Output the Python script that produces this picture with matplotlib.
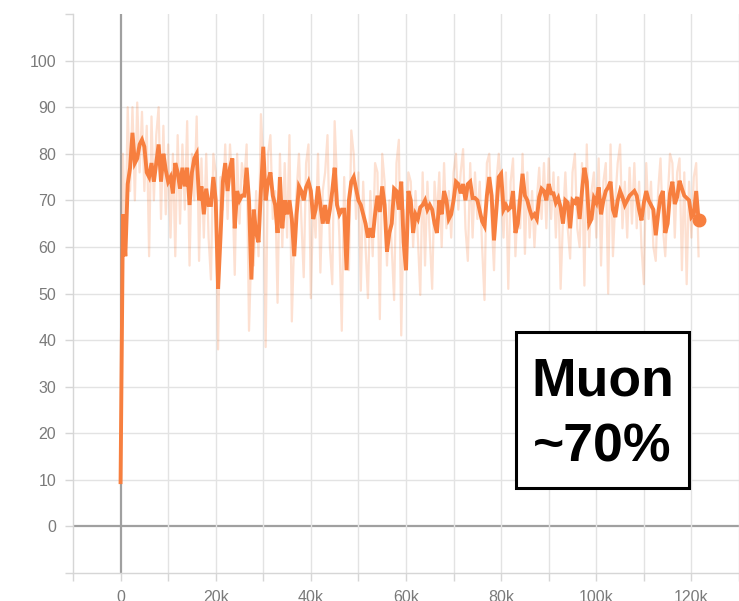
"""Muon eval accuracy curve, TensorBoard style (raw + smoothed)."""
import numpy as np
import matplotlib
matplotlib.use("Agg")
import matplotlib.pyplot as plt
from matplotlib.patches import Rectangle

# logged every 500 steps, first point at step 0
STEP_INTERVAL = 500

# smoothed curve (%)
SMOOTHED = [
    9.5, 67, 58, 73.5, 77, 84.5, 78, 79, 82, 83,
    81.5, 76, 75, 78, 74, 78, 82, 74, 80, 76.5,
    74, 75, 71.5, 78, 76, 72.5, 77, 73, 77, 69,
    76, 79, 80, 70, 73, 67, 72.5, 69, 69, 75,
    70, 51, 62, 74, 78, 72, 77, 79,
    64, 72, 70, 71, 71, 77, 70, 53, 68, 63,
    61, 72, 81.5, 70, 74, 76, 71, 69, 63, 75,
    64, 70, 67, 70, 66, 58, 67, 73, 72, 70,
    72.8, 74, 72, 66, 68, 73, 69, 65, 69, 65,
    68, 72, 77, 69, 67, 68, 68, 55, 70, 74,
    75, 72.5, 70, 69, 67, 65, 62, 64, 62, 67,
    71, 67.5, 73, 69, 59, 63, 65, 72.5, 72, 68,
    74, 61, 55, 72, 70, 63, 67, 66, 68.5, 69,
    70, 68, 69, 68, 65, 63, 70, 67, 72, 70,
    66, 67, 70, 74, 73.5, 71.5, 73.5, 70, 73.5,
    74,
    70.5, 70.5, 70, 67.8, 65.5, 64.5, 71, 75, 71, 61.4,
    68, 75, 75.7, 68, 69, 68, 68.5, 72, 63, 65,
    70.5, 75.7, 71, 70, 68, 66.4, 67, 66, 70.7, 72.5,
    72, 70, 73.5, 71.5, 71.5, 69.5, 70.5, 68.5, 65, 70,
    69.5, 64, 70, 69.5, 70.7, 66, 72, 77, 74,
    65, 66, 70.5, 69.5, 72.8, 67, 70, 72, 72.8, 74,
    68, 66.4, 70, 72, 70.7, 69, 70, 71, 71.5, 72,
    71, 68, 65.7, 69.5, 72, 70, 69, 68, 62.5, 67,
    70.7, 72, 63, 65, 71.5, 74, 69.2, 70.7, 74.2, 72.5,
    71, 70.5, 70, 66.4, 67, 72, 65.7,
]

# raw (unsmoothed) values, drawn faint behind
RAW = [
    9.5, 80, 60, 90, 72, 90, 70, 91, 76, 89,
    72, 86, 58, 88, 70, 84, 90, 66, 86, 67,
    82, 62, 80, 58, 84, 65, 82, 68, 87, 56,
    80, 70, 88, 57, 79, 62, 80, 62, 53, 80,
    76, 38, 75, 68, 82, 66, 82, 73,
    54, 80, 65, 78, 74, 82, 42, 60, 56, 72,
    58, 88.5, 78, 38.5, 80, 84, 66, 72, 48, 80,
    60, 78, 62, 84, 44, 62, 72, 80, 66, 53.5,
    78, 82, 49, 70, 62, 80, 54.5, 72, 76, 84,
    60, 52, 87, 74, 62, 42, 75, 56, 55, 85,
    80, 66, 76, 50.6, 74, 60, 49, 72, 58, 78,
    76, 44.5, 80, 74, 56, 70, 60, 48.6, 78, 83,
    41, 68, 58, 76, 74, 60, 72, 62, 49.7, 76,
    56, 74, 62, 51, 74, 66, 76, 60, 78, 64,
    72, 62, 76, 80, 68, 76, 81, 64, 57,
    78,
    62, 76, 66, 74, 60, 48.6, 78, 80, 66, 55,
    74, 80, 72, 62, 76, 51, 74, 79, 58, 70,
    64, 80, 58.5, 76, 62, 72, 60, 70, 77, 66,
    78, 64, 79, 66, 76, 62, 75, 51, 66, 76,
    64, 57.5, 76, 80, 64, 60, 78, 51.7, 82,
    60, 72, 76, 62, 79, 56, 74, 78, 50, 82,
    58, 70, 78, 82, 64, 74, 62, 77, 65, 78,
    64, 74, 60, 52, 78, 66, 74, 60, 57, 72,
    79, 64, 58, 70, 80, 78, 62, 76, 79, 55,
    76, 52, 74, 62, 75, 78, 58,
]

BOX_LINES = ["Muon", "~70%"]

ORANGE = "#f77f3f"
GRID = "#e3e3e3"
AXIS = "#a0a0a0"
LABEL = "#7a7a7a"

steps = np.arange(len(SMOOTHED)) * STEP_INTERVAL

fig = plt.figure(figsize=(7.39, 6.01), dpi=100)
ax = fig.add_axes([73 / 739, 28 / 601, 666 / 739, 559 / 601])
ax.set_xlim(-10000, 128750)
ax.set_ylim(-10, 110)

# grid, drawn by hand so there is no line along the top edge
for yv in range(0, 101, 10):
    ax.axhline(yv, color=AXIS if yv == 0 else GRID, lw=1.6 if yv == 0 else 1.0, zorder=0)
for xv in range(0, 130001, 10000):
    ax.axvline(xv, color=AXIS if xv == 0 else GRID, lw=1.6 if xv == 0 else 1.0, zorder=0)

ax.plot(steps, RAW, color=ORANGE, alpha=0.24, lw=1.6, zorder=2)
ax.plot(steps, SMOOTHED, color=ORANGE, lw=2.8, zorder=3, solid_joinstyle="miter")
ax.plot(steps[-1:], SMOOTHED[-1:], "o", color=ORANGE, ms=9, zorder=4)

for side in ["top", "right"]:
    ax.spines[side].set_visible(False)
for side in ["left", "bottom"]:
    ax.spines[side].set_color("#d6d6d6")
    ax.spines[side].set_linewidth(1.0)

yt = list(range(-10, 111, 10))
ax.set_yticks(yt)
ax.set_yticklabels([str(v) if 0 <= v <= 100 else "" for v in yt])
xt = list(range(-10000, 130001, 10000))
ax.set_xticks(xt)
ax.set_xticklabels([f"{v // 1000}k" if v > 0 and v % 20000 == 0 else ("0" if v == 0 else "")
                    for v in xt])
ax.tick_params(axis="both", color="#d6d6d6", length=6, width=1.0, labelcolor=LABEL,
               labelsize=11.5)
ax.tick_params(axis="y", pad=6)
ax.tick_params(axis="x", pad=6)
for lab in ax.get_xticklabels() + ax.get_yticklabels():
    lab.set_fontfamily("Liberation Sans")

# annotation box
x0, x1 = (516 - 73) / 666, (689 - 73) / 666
y0, y1 = (573 - 488) / 559, (573 - 332) / 559
ax.add_patch(Rectangle((x0, y0), x1 - x0, y1 - y0, transform=ax.transAxes,
                       fc="white", ec="black", lw=2.2, zorder=5))
for txt, yc in zip(BOX_LINES, [(573 - 381) / 559, (573 - 447) / 559]):
    ax.text((x0 + x1) / 2, yc, txt, transform=ax.transAxes, ha="center", va="center",
            fontsize=38.5, fontweight="bold", family="Liberation Sans", color="black", zorder=6)

fig.savefig("out.png", dpi=100)
